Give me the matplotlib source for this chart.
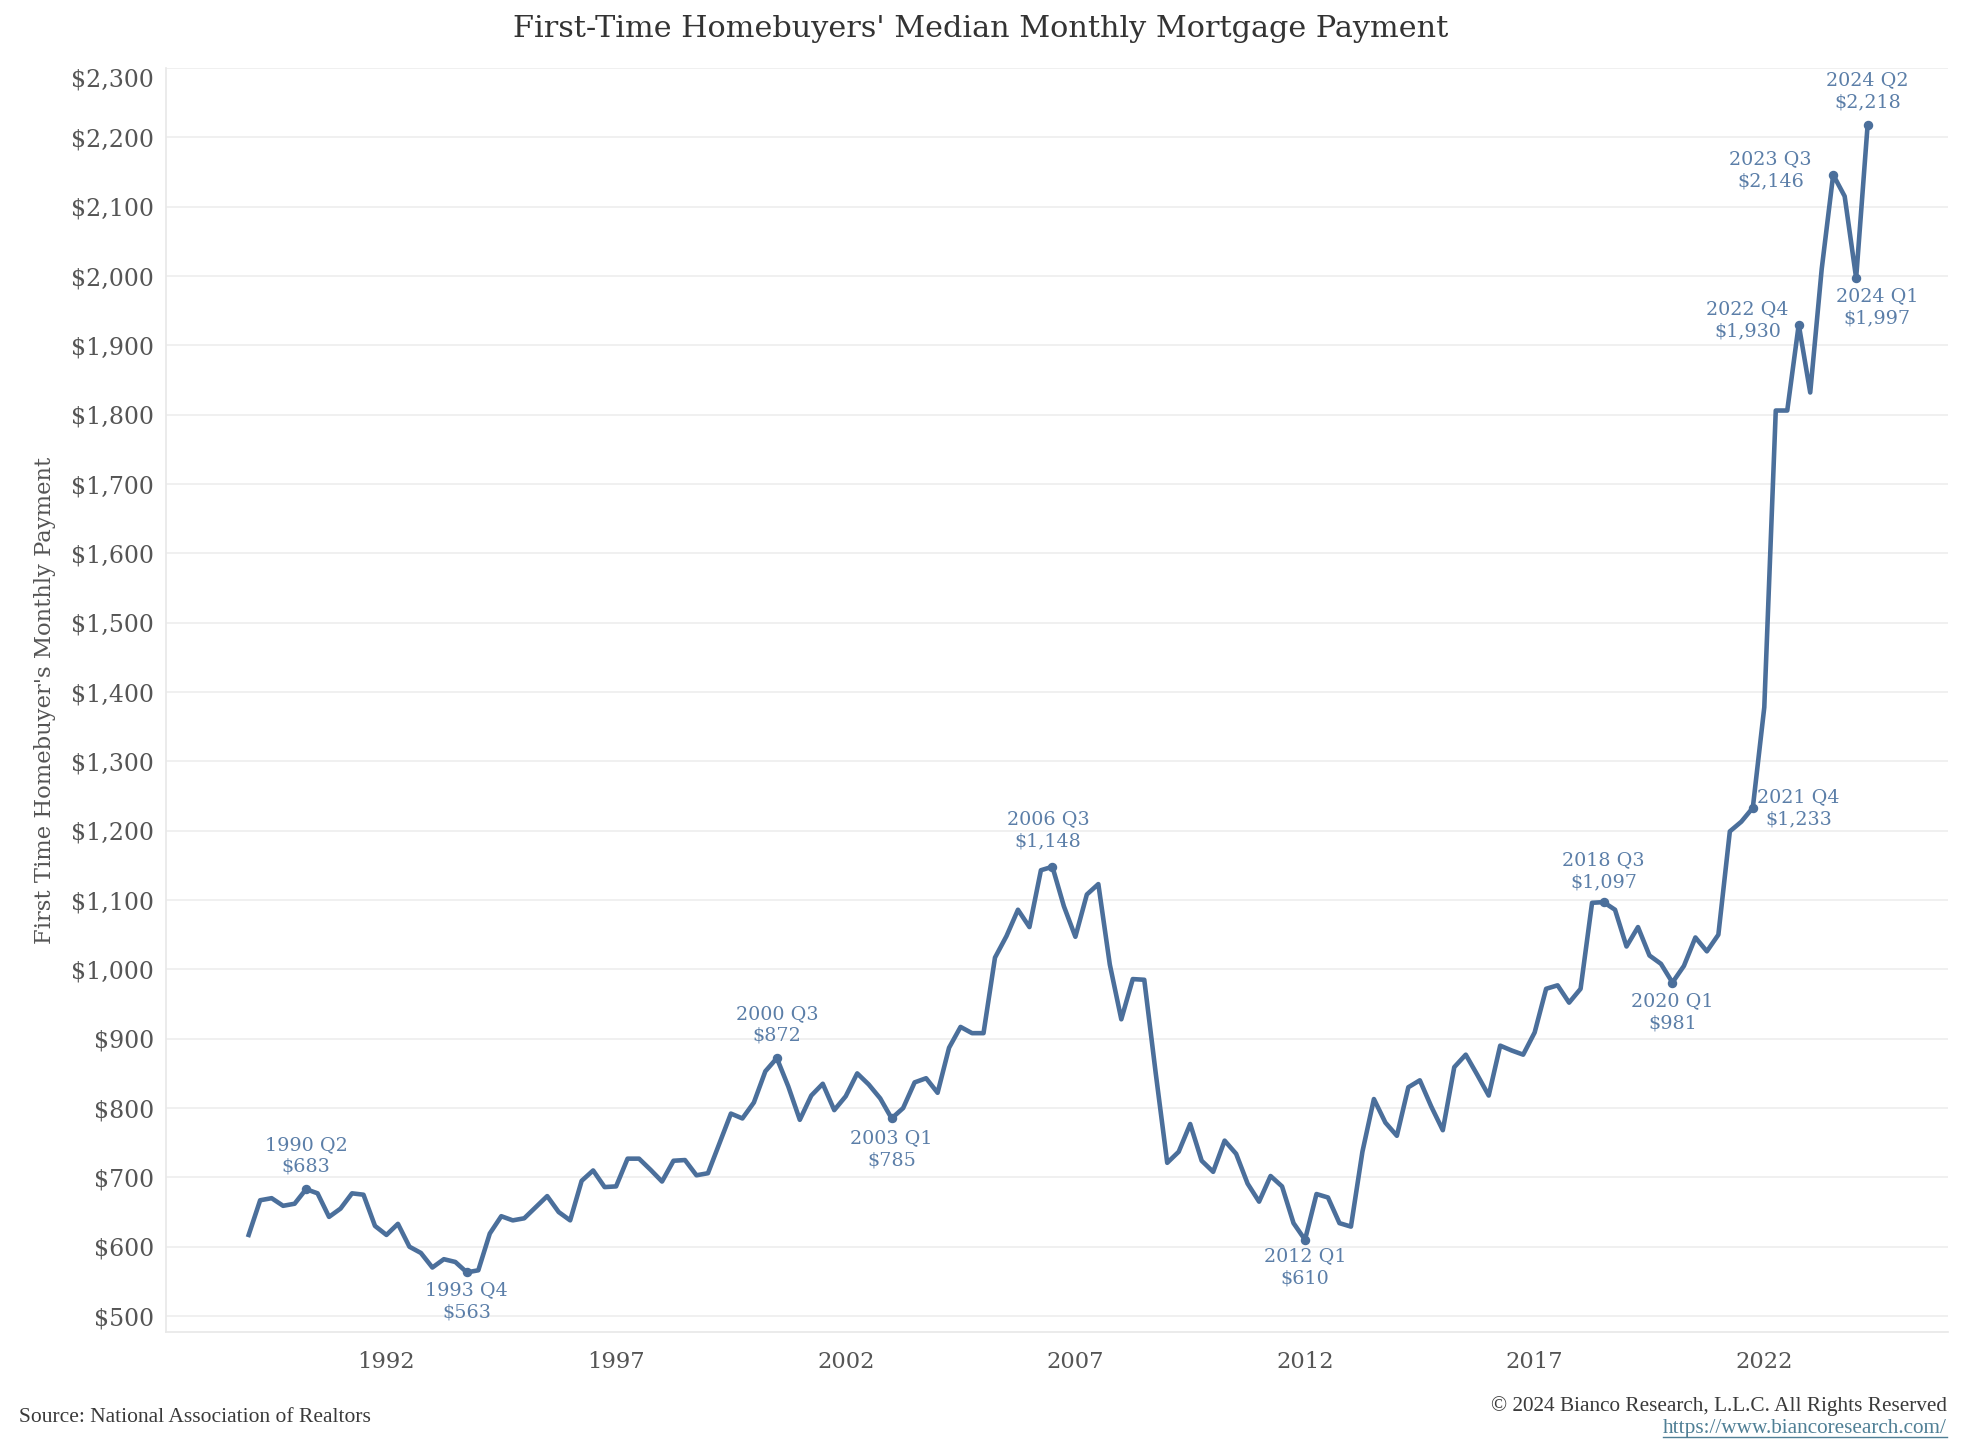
import matplotlib
matplotlib.use("Agg")
import matplotlib.pyplot as plt
from matplotlib.lines import Line2D
from matplotlib.ticker import FuncFormatter, FixedLocator
import numpy as np

# quarterly median monthly payment, 1989 Q1 .. 2024 Q2
start_year = 1989
payments = [
    617, 667, 670, 659,   662, 683, 677, 643,   655, 677, 675, 630,
    617, 633, 600, 591,   570, 582, 578, 563,   566, 619, 644, 638,
    641, 657, 673, 650,   638, 695, 710, 686,   687, 727, 727, 711,
    694, 724, 725, 703,   706, 749, 792, 785,   808, 853, 872, 831,
    783, 818, 835, 797,   817, 850, 834, 814,   785, 800, 837, 843,
    822, 887, 917, 908,   908, 1017, 1048, 1086, 1061, 1143, 1148, 1091,
    1047, 1108, 1123, 1007, 928, 986, 985, 850,  721, 737, 777, 724,
    708, 753, 734, 691,   665, 702, 687, 634,   610, 676, 671, 634,
    629, 737, 813, 779,   760, 830, 840, 802,   768, 859, 877, 848,
    818, 890, 883, 877,   909, 972, 977, 952,   972, 1096, 1097, 1086,
    1033, 1061, 1020, 1008, 981, 1005, 1046, 1026, 1050, 1199, 1213, 1233,
    1378, 1806, 1806, 1930, 1832, 2010, 2146, 2115, 1997, 2218,
]
year_ticks = [1992, 1997, 2002, 2007, 2012, 2017, 2022]
y_ticks = list(range(500, 2301, 100))

# labelled quarters (year, quarter) and where the text sits (offset in points)
labelled = [(1990, 2), (1993, 4), (2000, 3), (2003, 1), (2006, 3), (2012, 1),
            (2018, 3), (2020, 1), (2021, 4), (2022, 4), (2023, 3), (2024, 1), (2024, 2)]
offsets = [(0, 24), (0, -21), (0, 24), (0, -22), (-3, 26), (0, -20),
           (0, 22.5), (0, -21.5), (33, 0), (-37, 3), (-45, 3.5), (15, -21), (0, 24)]

x = start_year + np.arange(len(payments)) / 4.0

W, H = 1962, 1444
fig = plt.figure(figsize=(W / 100, H / 100), dpi=100)
ax = fig.add_axes([166 / W, 1 - 1332 / H, (1948 - 166) / W, (1332 - 68) / H])

serif = "DejaVu Serif"
line_c = "#4b6f9b"
lab_c = "#5b7ea8"
grey = "#555555"

ax.plot(x, payments, color=line_c, lw=3.3, solid_joinstyle="round", zorder=3)

for (yr, q), (dx, dy) in zip(labelled, offsets):
    i = (yr - start_year) * 4 + (q - 1)
    xv, yv = x[i], payments[i]
    ax.plot(xv, yv, "o", color=line_c, ms=5.8, zorder=4)
    ax.annotate(f"{yr} Q{q}\n${yv:,}", (xv, yv), xytext=(dx, dy),
                textcoords="offset points", ha="center", va="center",
                fontsize=13.8, color=lab_c, family=serif, linespacing=1.3, zorder=5)

ax.set_xlim(1987.2, 2026.0)
ax.set_ylim(477, 2300)
ax.xaxis.set_major_locator(FixedLocator(year_ticks))
ax.yaxis.set_major_locator(FixedLocator(y_ticks))
ax.yaxis.set_major_formatter(FuncFormatter(lambda v, p: f"${v:,.0f}"))
ax.tick_params(axis="both", length=0, colors=grey)
ax.tick_params(axis="y", labelsize=17, pad=8.5)
ax.tick_params(axis="x", labelsize=16.3, pad=14)
for t in ax.get_xticklabels() + ax.get_yticklabels():
    t.set_family(serif)
ax.grid(axis="y", color="#eeeeee", lw=1.2)
ax.set_axisbelow(True)
for s in ["top", "right"]:
    ax.spines[s].set_visible(False)
for s in ["left", "bottom"]:
    ax.spines[s].set_color("#e8e8e8")
    ax.spines[s].set_linewidth(1.2)

ax.set_ylabel("First Time Homebuyer's Monthly Payment", fontsize=16.3,
              color=grey, family=serif)
ax.yaxis.set_label_coords(-0.062, 0.5)

fig.text(0.5, 1 - 29 / H, "First-Time Homebuyers' Median Monthly Mortgage Payment",
         ha="center", va="center", fontsize=21.8, color="#333333", family=serif)

foot = "Liberation Serif"
fig.text(19 / W, 1 - 1418 / H, "Source: National Association of Realtors",
         ha="left", va="center", fontsize=15.5, color="#3a3a3a", family=foot)
fig.text(1947 / W, 1 - 1406 / H, "© 2024 Bianco Research, L.L.C. All Rights Reserved",
         ha="right", va="center", fontsize=15.3, color="#3a3a3a", family=foot)
url = fig.text(1947 / W, 1 - 1428 / H, "https://www.biancoresearch.com/",
               ha="right", va="center", fontsize=15.3, color="#4f7f95", family=foot)

# the top y label sits inside the plot area, as in the original
fig.canvas.draw()
ax.get_yticklabels()[-1].set_va("top")

bb = url.get_window_extent()
fig.add_artist(Line2D([bb.x0 / W, bb.x1 / W], [(bb.y0 + 1) / H] * 2,
                      color="#4f7f95", lw=1))

fig.savefig("out.png", dpi=100)
